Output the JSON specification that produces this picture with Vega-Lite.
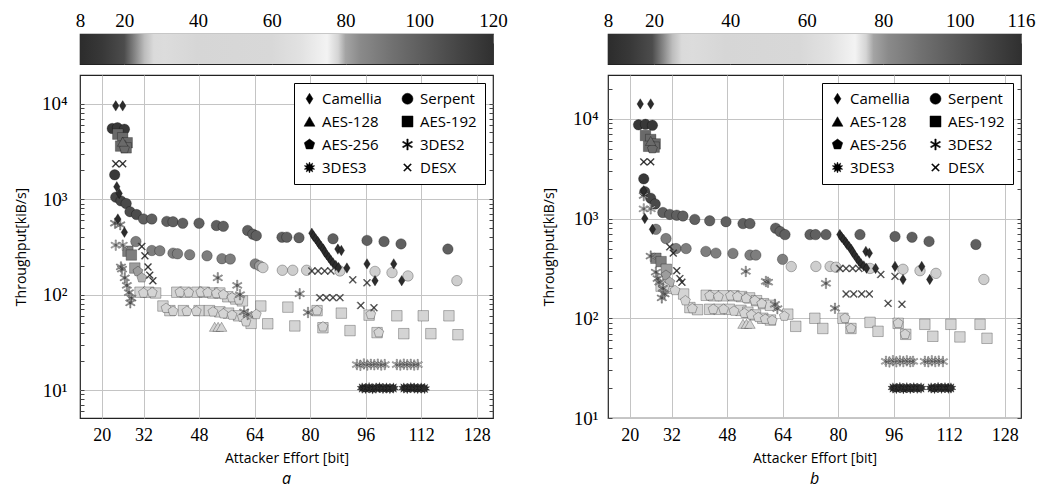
{
"$schema": "https://vega.github.io/schema/vega-lite/v6.json",
"background": "white",
"padding": {"left": 13, "top": 10, "right": 4, "bottom": 0},
"config": {
 "font": "Open Sans",
 "view": {"stroke": "#222222", "strokeWidth": 1.2},
 "axis": {"labelColor": "black", "titleColor": "black", "domain": false, "labelFlush": false, "labelOverlap": false, "titleFontWeight": "normal"}
},
"datasets": {
 "barA": [{"lo": 8, "hi": 120, "b": 0, "t": 1}],
 "barB": [{"lo": 8, "hi": 116, "b": 0, "t": 1}],
 "a": [
  {"s":"Serpent","x":23,"y":5500,"c":14},{"s":"Serpent","x":24.5,"y":5600,"c":14},{"s":"Serpent","x":26.5,"y":5400,"c":14},{"s":"Serpent","x":23.7,"y":1800,"c":14},
  {"s":"Serpent","x":24,"y":1050,"c":18},{"s":"Serpent","x":25.5,"y":960,"c":18},{"s":"Serpent","x":27,"y":900,"c":19},{"s":"Serpent","x":28.1,"y":740,"c":20},{"s":"Serpent","x":30,"y":690,"c":20},
  {"s":"Serpent","x":32,"y":620,"c":21},{"s":"Serpent","x":34.4,"y":620,"c":21},{"s":"Serpent","x":38.7,"y":585,"c":21},{"s":"Serpent","x":40.5,"y":580,"c":21},{"s":"Serpent","x":43.3,"y":560,"c":21},{"s":"Serpent","x":48,"y":560,"c":21},{"s":"Serpent","x":53,"y":530,"c":21},{"s":"Serpent","x":55,"y":520,"c":21},{"s":"Serpent","x":62,"y":470,"c":21},{"s":"Serpent","x":63.5,"y":430,"c":21},{"s":"Serpent","x":64.5,"y":415,"c":21},{"s":"Serpent","x":71.9,"y":400,"c":21},{"s":"Serpent","x":73.3,"y":400,"c":21},{"s":"Serpent","x":76.8,"y":395,"c":21},{"s":"Serpent","x":86.6,"y":385,"c":21},{"s":"Serpent","x":96.4,"y":370,"c":21},{"s":"Serpent","x":101.3,"y":360,"c":21},{"s":"Serpent","x":106.2,"y":340,"c":21},{"s":"Serpent","x":119.7,"y":300,"c":21},
  {"s":"Serpent","x":29.8,"y":360,"c":22.5},{"s":"Serpent","x":34.4,"y":290,"c":22.5},{"s":"Serpent","x":36.7,"y":288,"c":22.5},{"s":"Serpent","x":40.5,"y":272,"c":22.5},{"s":"Serpent","x":41.8,"y":268,"c":22.5},{"s":"Serpent","x":45.3,"y":262,"c":22.5},{"s":"Serpent","x":50.3,"y":255,"c":22.5},{"s":"Serpent","x":54.6,"y":238,"c":22.5},{"s":"Serpent","x":57,"y":236,"c":22.5},{"s":"Serpent","x":64.2,"y":210,"c":22.5},{"s":"Serpent","x":65.5,"y":200,"c":24},
  {"s":"Serpent","x":66.4,"y":192,"c":27},{"s":"Serpent","x":72,"y":180,"c":27},{"s":"Serpent","x":75,"y":180,"c":27},{"s":"Serpent","x":79,"y":180,"c":27},{"s":"Serpent","x":88.6,"y":177,"c":27},{"s":"Serpent","x":98.7,"y":175,"c":27},{"s":"Serpent","x":103.6,"y":170,"c":27},{"s":"Serpent","x":108.2,"y":157,"c":27},{"s":"Serpent","x":122.3,"y":140,"c":27},
  {"s":"AES-192","x":24.6,"y":4800,"c":21.5},{"s":"AES-192","x":26,"y":4400,"c":21.5},{"s":"AES-192","x":27.3,"y":3900,"c":21.5},{"s":"AES-192","x":25.4,"y":3600,"c":21.5},{"s":"AES-192","x":27,"y":3450,"c":21.5},
  {"s":"AES-192","x":27.5,"y":285,"c":22.5},{"s":"AES-192","x":28.5,"y":260,"c":22.5},{"s":"AES-192","x":29.5,"y":190,"c":24},
  {"s":"AES-192","x":31,"y":106,"c":27.5},{"s":"AES-192","x":33.5,"y":106,"c":27.5},{"s":"AES-192","x":35.5,"y":104,"c":27.5},{"s":"AES-192","x":41.6,"y":106,"c":27.5},{"s":"AES-192","x":44,"y":106,"c":27.5},{"s":"AES-192","x":47.4,"y":106,"c":27.5},{"s":"AES-192","x":49.5,"y":106,"c":27.5},{"s":"AES-192","x":52,"y":104,"c":27.5},{"s":"AES-192","x":54,"y":104,"c":27.5},{"s":"AES-192","x":56.3,"y":95,"c":27.5},{"s":"AES-192","x":58.6,"y":90,"c":27.5},{"s":"AES-192","x":60.5,"y":86,"c":27.5},
  {"s":"AES-192","x":37.6,"y":76,"c":27.5},{"s":"AES-192","x":39.6,"y":68,"c":27.5},{"s":"AES-192","x":43.5,"y":68,"c":27.5},{"s":"AES-192","x":48,"y":68,"c":27.5},{"s":"AES-192","x":51,"y":68,"c":27.5},{"s":"AES-192","x":54,"y":66,"c":27.5},{"s":"AES-192","x":56.5,"y":64,"c":27.5},{"s":"AES-192","x":59.4,"y":60,"c":27.5},{"s":"AES-192","x":62,"y":55,"c":27.5},{"s":"AES-192","x":63,"y":50,"c":27.5},
  {"s":"AES-192","x":65.8,"y":76,"c":27.5},{"s":"AES-192","x":73.6,"y":74,"c":27.5},{"s":"AES-192","x":82,"y":68,"c":27.5},{"s":"AES-192","x":89,"y":64,"c":27.5},{"s":"AES-192","x":97,"y":61,"c":27.5},{"s":"AES-192","x":105,"y":60,"c":27.5},{"s":"AES-192","x":112.6,"y":60,"c":27.5},{"s":"AES-192","x":120,"y":60,"c":27.5},
  {"s":"AES-192","x":67.8,"y":49.5,"c":27.5},{"s":"AES-192","x":75.6,"y":47,"c":27.5},{"s":"AES-192","x":83.7,"y":45,"c":27.5},{"s":"AES-192","x":91.5,"y":42,"c":27.5},{"s":"AES-192","x":99.3,"y":40,"c":27.5},{"s":"AES-192","x":107,"y":39,"c":27.5},{"s":"AES-192","x":114.8,"y":39,"c":27.5},{"s":"AES-192","x":122.6,"y":38,"c":27.5},
  {"s":"AES-256","x":26.5,"y":3400,"c":21.5},{"s":"AES-256","x":30.4,"y":175,"c":24},{"s":"AES-256","x":31.5,"y":150,"c":25},
  {"s":"AES-256","x":32,"y":104,"c":27.5},{"s":"AES-256","x":34.5,"y":105,"c":27.5},{"s":"AES-256","x":42.5,"y":106,"c":27.5},{"s":"AES-256","x":45,"y":105,"c":27.5},{"s":"AES-256","x":48.5,"y":106,"c":27.5},{"s":"AES-256","x":50.5,"y":105,"c":27.5},{"s":"AES-256","x":53,"y":103,"c":27.5},{"s":"AES-256","x":55,"y":100,"c":27.5},{"s":"AES-256","x":57.5,"y":93,"c":27.5},{"s":"AES-256","x":59.5,"y":88,"c":27.5},
  {"s":"AES-256","x":38.5,"y":72,"c":27.5},{"s":"AES-256","x":40.5,"y":67,"c":27.5},{"s":"AES-256","x":44.5,"y":67,"c":27.5},{"s":"AES-256","x":47.2,"y":67,"c":27.5},{"s":"AES-256","x":52,"y":66,"c":27.5},{"s":"AES-256","x":55,"y":63,"c":27.5},{"s":"AES-256","x":57.5,"y":61,"c":27.5},{"s":"AES-256","x":60.5,"y":58,"c":27.5},{"s":"AES-256","x":61.5,"y":52,"c":27.5},
  {"s":"AES-256","x":82,"y":68,"c":27.5},{"s":"AES-256","x":83.7,"y":46,"c":27.5},{"s":"AES-256","x":97.5,"y":62,"c":27.5},{"s":"AES-256","x":99.8,"y":40,"c":27.5},{"s":"AES-256","x":64.5,"y":62,"c":27.5},
  {"s":"AES-128","x":52.5,"y":46,"c":27.5},{"s":"AES-128","x":53.5,"y":46,"c":27.5},{"s":"AES-128","x":54.5,"y":46,"c":27.5},{"s":"AES-128","x":26,"y":4000,"c":21.5},
  {"s":"3DES2","x":23.8,"y":560,"c":24},{"s":"3DES2","x":25.3,"y":540,"c":24},{"s":"3DES2","x":24,"y":330,"c":25.5},{"s":"3DES2","x":26,"y":330,"c":25.5},{"s":"3DES2","x":25.5,"y":195,"c":24},{"s":"3DES2","x":25.8,"y":185,"c":24},{"s":"3DES2","x":26.6,"y":150,"c":24},{"s":"3DES2","x":27.2,"y":125,"c":24},{"s":"3DES2","x":27.8,"y":105,"c":24},{"s":"3DES2","x":28.5,"y":92,"c":24},{"s":"3DES2","x":28.2,"y":82,"c":24},
  {"s":"3DES2","x":53.4,"y":150,"c":24.5},{"s":"3DES2","x":59,"y":125,"c":24.5},{"s":"3DES2","x":59.8,"y":100,"c":24.5},{"s":"3DES2","x":61,"y":66,"c":24.5},{"s":"3DES2","x":62,"y":62,"c":24.5},{"s":"3DES2","x":77,"y":102,"c":24.5},{"s":"3DES2","x":79.4,"y":65,"c":24.5},
  {"s":"3DES2","x":93.5,"y":18.5,"c":25.5},{"s":"3DES2","x":94.5,"y":18.2,"c":25.5},{"s":"3DES2","x":95.5,"y":18.8,"c":25.5},{"s":"3DES2","x":96.5,"y":18.3,"c":25.5},{"s":"3DES2","x":97.5,"y":18.6,"c":25.5},{"s":"3DES2","x":98.5,"y":18.4,"c":25.5},{"s":"3DES2","x":99.5,"y":18.7,"c":25.5},{"s":"3DES2","x":100.5,"y":18.3,"c":25.5},{"s":"3DES2","x":101.5,"y":18.5,"c":25.5},{"s":"3DES2","x":105,"y":18.5,"c":25.5},{"s":"3DES2","x":106,"y":18.3,"c":25.5},{"s":"3DES2","x":107,"y":18.7,"c":25.5},{"s":"3DES2","x":108,"y":18.4,"c":25.5},{"s":"3DES2","x":109,"y":18.6,"c":25.5},{"s":"3DES2","x":110,"y":18.3,"c":25.5},{"s":"3DES2","x":111,"y":18.5,"c":25.5},
  {"s":"3DES3","x":95,"y":10.5,"c":8},{"s":"3DES3","x":96,"y":10.4,"c":8},{"s":"3DES3","x":97,"y":10.6,"c":8},{"s":"3DES3","x":98,"y":10.3,"c":8},{"s":"3DES3","x":99,"y":10.5,"c":8},{"s":"3DES3","x":100,"y":10.6,"c":8},{"s":"3DES3","x":101,"y":10.4,"c":8},{"s":"3DES3","x":102,"y":10.5,"c":8},{"s":"3DES3","x":103,"y":10.4,"c":8},{"s":"3DES3","x":104,"y":10.5,"c":8},{"s":"3DES3","x":107,"y":10.5,"c":8},{"s":"3DES3","x":108,"y":10.4,"c":8},{"s":"3DES3","x":109,"y":10.6,"c":8},{"s":"3DES3","x":110,"y":10.5,"c":8},{"s":"3DES3","x":111,"y":10.4,"c":8},{"s":"3DES3","x":112,"y":10.5,"c":8},{"s":"3DES3","x":113,"y":10.4,"c":8},
  {"s":"DESX","x":24,"y":2350,"c":10},{"s":"DESX","x":26,"y":2350,"c":10},{"s":"DESX","x":31.5,"y":320,"c":15},{"s":"DESX","x":32.4,"y":255,"c":15},{"s":"DESX","x":33.3,"y":195,"c":15},{"s":"DESX","x":33.8,"y":160,"c":15},{"s":"DESX","x":34.7,"y":140,"c":15},
  {"s":"DESX","x":80.5,"y":177,"c":20.5},{"s":"DESX","x":82.3,"y":177,"c":20.5},{"s":"DESX","x":84.2,"y":177,"c":20.5},{"s":"DESX","x":86,"y":177,"c":20.5},{"s":"DESX","x":92.3,"y":143,"c":20.5},{"s":"DESX","x":96.4,"y":133,"c":20.5},{"s":"DESX","x":82.8,"y":93,"c":20.5},{"s":"DESX","x":84.7,"y":93,"c":20.5},{"s":"DESX","x":86.6,"y":93,"c":20.5},{"s":"DESX","x":88.6,"y":93,"c":20.5},{"s":"DESX","x":94.6,"y":77,"c":20.5},{"s":"DESX","x":98.4,"y":73,"c":20.5},
  {"s":"Camellia","x":24,"y":9500,"c":8},{"s":"Camellia","x":26,"y":9500,"c":8},{"s":"Camellia","x":24.3,"y":1350,"c":8},{"s":"Camellia","x":25,"y":1150,"c":8},{"s":"Camellia","x":24.6,"y":620,"c":8},{"s":"Camellia","x":26.5,"y":450,"c":8},
  {"s":"Camellia","x":80.5,"y":440,"c":8},{"s":"Camellia","x":81,"y":410,"c":8},{"s":"Camellia","x":81.6,"y":385,"c":8},{"s":"Camellia","x":82.2,"y":360,"c":8},{"s":"Camellia","x":82.6,"y":340,"c":8},{"s":"Camellia","x":83.2,"y":320,"c":8},{"s":"Camellia","x":83.8,"y":300,"c":8},{"s":"Camellia","x":84.2,"y":280,"c":8},{"s":"Camellia","x":84.8,"y":262,"c":8},{"s":"Camellia","x":85.4,"y":245,"c":8},{"s":"Camellia","x":86,"y":228,"c":8},{"s":"Camellia","x":86.6,"y":215,"c":8},{"s":"Camellia","x":87.4,"y":202,"c":8},{"s":"Camellia","x":88.2,"y":192,"c":8},{"s":"Camellia","x":88,"y":300,"c":8},{"s":"Camellia","x":89,"y":290,"c":8},{"s":"Camellia","x":90.6,"y":190,"c":8},{"s":"Camellia","x":96.4,"y":210,"c":8},{"s":"Camellia","x":104.1,"y":210,"c":8},{"s":"Camellia","x":98.7,"y":140,"c":8},{"s":"Camellia","x":106.4,"y":140,"c":8}
 ],
 "b": [
  {"s":"Serpent","x":22.5,"y":8700,"c":14},{"s":"Serpent","x":24.5,"y":8800,"c":14},{"s":"Serpent","x":26.5,"y":8600,"c":14},{"s":"Serpent","x":24,"y":2500,"c":14},
  {"s":"Serpent","x":24.3,"y":1860,"c":18},{"s":"Serpent","x":26,"y":1600,"c":18},{"s":"Serpent","x":27.3,"y":1400,"c":19},
  {"s":"Serpent","x":29.5,"y":1150,"c":21},{"s":"Serpent","x":31.5,"y":1100,"c":21},{"s":"Serpent","x":33.5,"y":1080,"c":21},{"s":"Serpent","x":35.3,"y":1060,"c":21},{"s":"Serpent","x":38.7,"y":980,"c":21},{"s":"Serpent","x":43,"y":950,"c":21},{"s":"Serpent","x":47.7,"y":930,"c":21},{"s":"Serpent","x":52.6,"y":890,"c":21},{"s":"Serpent","x":54.6,"y":890,"c":21},{"s":"Serpent","x":62,"y":800,"c":21},{"s":"Serpent","x":63.3,"y":740,"c":21},{"s":"Serpent","x":64.7,"y":690,"c":21},{"s":"Serpent","x":71.9,"y":690,"c":21},{"s":"Serpent","x":73.5,"y":690,"c":21},{"s":"Serpent","x":76.5,"y":690,"c":21},{"s":"Serpent","x":86.3,"y":690,"c":21},{"s":"Serpent","x":96.4,"y":660,"c":21},{"s":"Serpent","x":101.3,"y":650,"c":21},{"s":"Serpent","x":106.2,"y":590,"c":21},{"s":"Serpent","x":119.7,"y":550,"c":21},
  {"s":"Serpent","x":27.5,"y":780,"c":22.5},{"s":"Serpent","x":30.4,"y":630,"c":22.5},{"s":"Serpent","x":33.3,"y":500,"c":22.5},{"s":"Serpent","x":36.2,"y":500,"c":22.5},{"s":"Serpent","x":41.9,"y":468,"c":22.5},{"s":"Serpent","x":44.8,"y":450,"c":22.5},{"s":"Serpent","x":49.7,"y":447,"c":22.5},{"s":"Serpent","x":54.6,"y":430,"c":22.5},{"s":"Serpent","x":56.3,"y":430,"c":22.5},{"s":"Serpent","x":64,"y":390,"c":22.5},
  {"s":"Serpent","x":66.5,"y":330,"c":27},{"s":"Serpent","x":73.6,"y":331,"c":27},{"s":"Serpent","x":77.7,"y":331,"c":27},{"s":"Serpent","x":79.4,"y":325,"c":27},{"s":"Serpent","x":89.2,"y":316,"c":27},{"s":"Serpent","x":98.7,"y":310,"c":27},{"s":"Serpent","x":103.6,"y":300,"c":27},{"s":"Serpent","x":108.2,"y":282,"c":27},{"s":"Serpent","x":122,"y":245,"c":27},
  {"s":"AES-192","x":24.5,"y":6800,"c":21.5},{"s":"AES-192","x":26,"y":6200,"c":21.5},{"s":"AES-192","x":27.3,"y":5600,"c":21.5},{"s":"AES-192","x":25.4,"y":5300,"c":21.5},{"s":"AES-192","x":27,"y":5200,"c":21.5},
  {"s":"AES-192","x":27.5,"y":400,"c":22.5},{"s":"AES-192","x":29,"y":370,"c":22.5},{"s":"AES-192","x":30.5,"y":310,"c":24},
  {"s":"AES-192","x":29,"y":210,"c":27.5},{"s":"AES-192","x":31,"y":200,"c":27.5},{"s":"AES-192","x":35.5,"y":175,"c":27.5},{"s":"AES-192","x":42,"y":170,"c":27.5},{"s":"AES-192","x":44.2,"y":168,"c":27.5},{"s":"AES-192","x":47,"y":168,"c":27.5},{"s":"AES-192","x":50,"y":168,"c":27.5},{"s":"AES-192","x":52.2,"y":165,"c":27.5},{"s":"AES-192","x":54.5,"y":160,"c":27.5},{"s":"AES-192","x":56.5,"y":150,"c":27.5},{"s":"AES-192","x":58.5,"y":140,"c":27.5},{"s":"AES-192","x":60.5,"y":135,"c":27.5},
  {"s":"AES-192","x":37.3,"y":128,"c":27.5},{"s":"AES-192","x":39.5,"y":122,"c":27.5},{"s":"AES-192","x":43,"y":123,"c":27.5},{"s":"AES-192","x":45.7,"y":123,"c":27.5},{"s":"AES-192","x":48.7,"y":123,"c":27.5},{"s":"AES-192","x":52,"y":120,"c":27.5},{"s":"AES-192","x":54,"y":115,"c":27.5},{"s":"AES-192","x":56.2,"y":108,"c":27.5},{"s":"AES-192","x":58.3,"y":100,"c":27.5},{"s":"AES-192","x":60.5,"y":96,"c":27.5},
  {"s":"AES-192","x":65.5,"y":110,"c":27.5},{"s":"AES-192","x":73.3,"y":100,"c":27.5},{"s":"AES-192","x":81.4,"y":100,"c":27.5},{"s":"AES-192","x":89.2,"y":91,"c":27.5},{"s":"AES-192","x":97.3,"y":89,"c":27.5},{"s":"AES-192","x":105,"y":87,"c":27.5},{"s":"AES-192","x":112.5,"y":87,"c":27.5},{"s":"AES-192","x":120.9,"y":87,"c":27.5},
  {"s":"AES-192","x":67.8,"y":83,"c":27.5},{"s":"AES-192","x":75.6,"y":79,"c":27.5},{"s":"AES-192","x":83.7,"y":79,"c":27.5},{"s":"AES-192","x":91.5,"y":74,"c":27.5},{"s":"AES-192","x":99.5,"y":69,"c":27.5},{"s":"AES-192","x":107.3,"y":66,"c":27.5},{"s":"AES-192","x":115.1,"y":65,"c":27.5},{"s":"AES-192","x":122.9,"y":63,"c":27.5},
  {"s":"AES-256","x":26.5,"y":5000,"c":21.5},{"s":"AES-256","x":30.4,"y":270,"c":24},{"s":"AES-256","x":31.5,"y":230,"c":25},
  {"s":"AES-256","x":30,"y":205,"c":27.5},{"s":"AES-256","x":33,"y":190,"c":27.5},{"s":"AES-256","x":43,"y":168,"c":27.5},{"s":"AES-256","x":45.5,"y":165,"c":27.5},{"s":"AES-256","x":49,"y":168,"c":27.5},{"s":"AES-256","x":51,"y":165,"c":27.5},{"s":"AES-256","x":53.5,"y":158,"c":27.5},{"s":"AES-256","x":56,"y":150,"c":27.5},{"s":"AES-256","x":58,"y":140,"c":27.5},
  {"s":"AES-256","x":36,"y":150,"c":27.5},{"s":"AES-256","x":38,"y":125,"c":27.5},{"s":"AES-256","x":44,"y":123,"c":27.5},{"s":"AES-256","x":47,"y":123,"c":27.5},{"s":"AES-256","x":50,"y":118,"c":27.5},{"s":"AES-256","x":53,"y":112,"c":27.5},{"s":"AES-256","x":55,"y":108,"c":27.5},{"s":"AES-256","x":57,"y":102,"c":27.5},{"s":"AES-256","x":59,"y":98,"c":27.5},{"s":"AES-256","x":61,"y":95,"c":27.5},
  {"s":"AES-256","x":82,"y":100,"c":27.5},{"s":"AES-256","x":83.7,"y":79,"c":27.5},{"s":"AES-256","x":97.3,"y":89,"c":27.5},{"s":"AES-256","x":99.3,"y":69,"c":27.5},{"s":"AES-256","x":64.5,"y":105,"c":27.5},
  {"s":"AES-128","x":52.6,"y":88,"c":27.5},{"s":"AES-128","x":53.6,"y":88,"c":27.5},{"s":"AES-128","x":54.6,"y":88,"c":27.5},{"s":"AES-128","x":26,"y":6000,"c":21.5},
  {"s":"3DES2","x":24,"y":1700,"c":24},{"s":"3DES2","x":24,"y":1250,"c":25.5},{"s":"3DES2","x":26,"y":1250,"c":25.5},{"s":"3DES2","x":26,"y":420,"c":24},{"s":"3DES2","x":27.5,"y":290,"c":24},{"s":"3DES2","x":28,"y":250,"c":24},{"s":"3DES2","x":28.5,"y":230,"c":24},{"s":"3DES2","x":29.5,"y":200,"c":24},{"s":"3DES2","x":30,"y":175,"c":24},{"s":"3DES2","x":29.2,"y":160,"c":24},
  {"s":"3DES2","x":53.4,"y":295,"c":24.5},{"s":"3DES2","x":59.2,"y":234,"c":24.5},{"s":"3DES2","x":59.8,"y":230,"c":24.5},{"s":"3DES2","x":61.8,"y":138,"c":24.5},{"s":"3DES2","x":62.5,"y":125,"c":24.5},{"s":"3DES2","x":76.5,"y":224,"c":24.5},{"s":"3DES2","x":79.1,"y":126,"c":24.5},
  {"s":"3DES2","x":93.8,"y":37,"c":25.5},{"s":"3DES2","x":94.8,"y":36.5,"c":25.5},{"s":"3DES2","x":95.8,"y":37.5,"c":25.5},{"s":"3DES2","x":96.8,"y":36.6,"c":25.5},{"s":"3DES2","x":97.8,"y":37.3,"c":25.5},{"s":"3DES2","x":98.8,"y":36.8,"c":25.5},{"s":"3DES2","x":99.8,"y":37.4,"c":25.5},{"s":"3DES2","x":100.8,"y":36.7,"c":25.5},{"s":"3DES2","x":101.6,"y":37,"c":25.5},{"s":"3DES2","x":105,"y":37,"c":25.5},{"s":"3DES2","x":106,"y":36.6,"c":25.5},{"s":"3DES2","x":107,"y":37.4,"c":25.5},{"s":"3DES2","x":108,"y":36.8,"c":25.5},{"s":"3DES2","x":109,"y":37.2,"c":25.5},{"s":"3DES2","x":110.2,"y":36.8,"c":25.5},
  {"s":"3DES3","x":95.8,"y":20,"c":8},{"s":"3DES3","x":96.8,"y":19.8,"c":8},{"s":"3DES3","x":97.8,"y":20.2,"c":8},{"s":"3DES3","x":98.8,"y":19.7,"c":8},{"s":"3DES3","x":99.8,"y":20.1,"c":8},{"s":"3DES3","x":100.8,"y":19.8,"c":8},{"s":"3DES3","x":101.8,"y":20.1,"c":8},{"s":"3DES3","x":102.8,"y":19.9,"c":8},{"s":"3DES3","x":103.9,"y":20,"c":8},{"s":"3DES3","x":106.8,"y":20,"c":8},{"s":"3DES3","x":107.8,"y":19.8,"c":8},{"s":"3DES3","x":108.8,"y":20.2,"c":8},{"s":"3DES3","x":109.8,"y":19.9,"c":8},{"s":"3DES3","x":110.8,"y":20.1,"c":8},{"s":"3DES3","x":111.8,"y":19.9,"c":8},{"s":"3DES3","x":112.5,"y":20,"c":8},
  {"s":"DESX","x":24,"y":3700,"c":10},{"s":"DESX","x":26,"y":3700,"c":10},{"s":"DESX","x":31.5,"y":520,"c":15},{"s":"DESX","x":32.5,"y":450,"c":15},{"s":"DESX","x":33.5,"y":300,"c":15},{"s":"DESX","x":34.4,"y":250,"c":15},{"s":"DESX","x":35,"y":230,"c":15},
  {"s":"DESX","x":80.5,"y":316,"c":20.5},{"s":"DESX","x":82.3,"y":316,"c":20.5},{"s":"DESX","x":84.2,"y":316,"c":20.5},{"s":"DESX","x":86,"y":316,"c":20.5},{"s":"DESX","x":92.3,"y":275,"c":20.5},{"s":"DESX","x":96.4,"y":263,"c":20.5},{"s":"DESX","x":82.3,"y":175,"c":20.5},{"s":"DESX","x":84.5,"y":175,"c":20.5},{"s":"DESX","x":86.8,"y":175,"c":20.5},{"s":"DESX","x":89,"y":175,"c":20.5},{"s":"DESX","x":94.4,"y":141,"c":20.5},{"s":"DESX","x":98.4,"y":138,"c":20.5},
  {"s":"Camellia","x":23,"y":14100,"c":8},{"s":"Camellia","x":26,"y":14100,"c":8},{"s":"Camellia","x":24,"y":1900,"c":8},{"s":"Camellia","x":24.3,"y":1000,"c":8},{"s":"Camellia","x":26.5,"y":780,"c":8},
  {"s":"Camellia","x":80.5,"y":690,"c":8},{"s":"Camellia","x":81,"y":650,"c":8},{"s":"Camellia","x":81.6,"y":615,"c":8},{"s":"Camellia","x":82.2,"y":580,"c":8},{"s":"Camellia","x":82.6,"y":550,"c":8},{"s":"Camellia","x":83.2,"y":520,"c":8},{"s":"Camellia","x":83.8,"y":490,"c":8},{"s":"Camellia","x":84.2,"y":460,"c":8},{"s":"Camellia","x":84.8,"y":430,"c":8},{"s":"Camellia","x":85.4,"y":400,"c":8},{"s":"Camellia","x":86,"y":375,"c":8},{"s":"Camellia","x":86.6,"y":352,"c":8},{"s":"Camellia","x":87.4,"y":335,"c":8},{"s":"Camellia","x":88.2,"y":318,"c":8},{"s":"Camellia","x":88,"y":468,"c":8},{"s":"Camellia","x":89,"y":450,"c":8},{"s":"Camellia","x":90.8,"y":316,"c":8},{"s":"Camellia","x":96.4,"y":331,"c":8},{"s":"Camellia","x":104.1,"y":331,"c":8},{"s":"Camellia","x":98.7,"y":245,"c":8},{"s":"Camellia","x":106.4,"y":245,"c":8}
 ]
},
"spacing": 33,
"resolve": {"scale": {"shape": "independent", "color": "independent"}, "legend": {"shape": "independent"}},
"hconcat": [
 {
  "spacing": 6,
  "resolve": {"scale": {"shape": "independent", "color": "independent"}, "legend": {"shape": "independent"}},
  "vconcat": [
   {
    "width": 413, "height": 30,
    "data": {"name": "barA"},
    "layer": [
     {"mark": {"type": "rect", "fill": {"gradient": "linear", "x1": 0, "y1": 0, "x2": 1, "y2": 0, "stops": [
       {"offset": 0, "color": "#2c2c2c"}, {"offset": 0.0536, "color": "#383838"}, {"offset": 0.1071, "color": "#4c4c4c"}, {"offset": 0.1339, "color": "#888888"}, {"offset": 0.1563, "color": "#bdbdbd"}, {"offset": 0.1786, "color": "#dadada"}, {"offset": 0.2054, "color": "#dcdcdc"}, {"offset": 0.2857, "color": "#d6d6d6"}, {"offset": 0.4643, "color": "#d8d8d8"}, {"offset": 0.5357, "color": "#e2e2e2"}, {"offset": 0.5982, "color": "#f3f3f3"}, {"offset": 0.625, "color": "#d4d4d4"}, {"offset": 0.6429, "color": "#a4a4a4"}, {"offset": 0.6786, "color": "#8a8a8a"}, {"offset": 0.7589, "color": "#707070"}, {"offset": 0.8393, "color": "#5a5a5a"}, {"offset": 0.9196, "color": "#444444"}, {"offset": 1, "color": "#303030"}]}},
      "encoding": {
       "x": {"field": "lo", "type": "quantitative", "scale": {"domain": [8, 120], "nice": false, "zero": false},
             "axis": {"orient": "top", "values": [8, 20, 40, 60, 80, 100, 120], "title": null, "grid": false, "tickSize": -9, "tickColor": "#666666", "labelPadding": 13, "labelFont": "Liberation Serif", "labelFontSize": 19}},
       "x2": {"field": "hi"},
       "y": {"field": "b", "type": "quantitative", "scale": {"domain": [0, 1], "nice": false, "zero": false}, "axis": null},
       "y2": {"field": "t"}}},
     {"mark": {"type": "point", "opacity": 0},
      "encoding": {"x": {"field": "lo", "type": "quantitative", "axis": {"orient": "bottom", "values": [20, 40, 60, 80, 100], "title": null, "grid": false, "labels": false, "tickSize": -9, "tickColor": "#666666"}},
                   "y": {"field": "b", "type": "quantitative", "axis": null}}}
    ],
    "resolve": {"axis": {"x": "independent"}}
   },
   {
    "width": 413, "height": 343,
    "data": {"name": "a"},
    "title": {"text": "a", "orient": "bottom", "offset": 6, "font": "Open Sans", "fontSize": 16, "fontStyle": "italic", "fontWeight": "normal", "color": "black"},
    "layer": [
     {"mark": {"type": "point", "filled": true, "size": 110, "opacity": 1, "stroke": "black", "strokeWidth": 0.8, "strokeOpacity": 0.35},
      "encoding": {
       "x": {"field": "x", "type": "quantitative", "scale": {"domain": [13.7, 132.7], "nice": false, "zero": false},
             "axis": {"values": [20, 32, 48, 64, 80, 96, 112, 128], "grid": true, "gridColor": "#c4c4c4", "ticks": false, "labelPadding": 8, "labelFont": "Liberation Serif", "labelFontSize": 18, "title": "Attacker Effort [bit]", "titleFont": "Open Sans", "titleFontSize": 14, "titlePadding": 7}},
       "y": {"field": "y", "type": "quantitative", "scale": {"type": "log", "domain": [5.1, 20000], "nice": false},
             "axis": {"orient": "left", "values": [6,7,8,9,10,20,30,40,50,60,70,80,90,100,200,300,400,500,600,700,800,900,1000,2000,3000,4000,5000,6000,7000,8000,9000,10000],
                      "labelExpr": "datum.value == 10 ? '10¹' : datum.value == 100 ? '10²' : datum.value == 1000 ? '10³' : datum.value == 10000 ? '10⁴' : ''",
                      "tickSize": -4, "tickColor": "#444444", "labelPadding": 17, "labelFont": "Liberation Serif", "labelFontSize": 19,
                      "grid": true, "gridColor": "#c4c4c4", "gridOpacity": {"condition": {"test": "datum.value == 10 || datum.value == 100 || datum.value == 1000 || datum.value == 10000", "value": 1}, "value": 0},
                      "title": "Throughput[kiB/s]", "titleFont": "Open Sans", "titleFontSize": 14, "titlePadding": 13}},
       "shape": {"field": "s", "type": "nominal",
                 "scale": {"domain": ["Camellia", "AES-128", "AES-256", "3DES3", "Serpent", "AES-192", "3DES2", "DESX"],
                           "range": ["M0,-1L0.62,0L0,1L-0.62,0Z", "triangle-up", "M0,-1L0.951,-0.309L0.588,0.809L-0.588,0.809L-0.951,-0.309Z", "M0,-1L0.17,-0.523L0.588,-0.809L0.445,-0.323L0.951,-0.309L0.55,0L0.951,0.309L0.445,0.323L0.588,0.809L0.17,0.523L0,1L-0.17,0.523L-0.588,0.809L-0.445,0.323L-0.951,0.309L-0.55,0L-0.951,-0.309L-0.445,-0.323L-0.588,-0.809L-0.17,-0.523Z", "circle", "square", "M-0.12,-1L0.12,-1L0.12,1L-0.12,1ZM0.806,-0.604L0.926,-0.396L-0.806,0.604L-0.926,0.396ZM0.926,0.396L0.806,0.604L-0.926,-0.396L-0.806,-0.604Z", "M0.566,-0.707L0.707,-0.566L-0.566,0.707L-0.707,0.566ZM-0.707,-0.566L-0.566,-0.707L0.707,0.566L0.566,0.707Z"]},
                 "legend": {"title": null, "orient": "top-right", "offset": 8, "columns": 2, "strokeColor": "black", "fillColor": "white", "padding": 8, "rowPadding": 7, "columnPadding": 18, "symbolSize": 120, "symbolFillColor": "black", "symbolStrokeColor": "black", "symbolStrokeWidth": 0.5, "symbolOpacity": 1, "labelFont": "Open Sans", "labelFontSize": 15, "labelColor": "black", "labelOffset": 5}},
       "color": {"field": "c", "type": "quantitative", "legend": null,
                 "scale": {"domain": [8,14,20,23,25.5,28,31,40,60,68,75,78,80,84,93,102,111,120], "range": ["#2c2c2c","#383838","#4c4c4c","#888888","#bdbdbd","#dadada","#dcdcdc","#d6d6d6","#d8d8d8","#e2e2e2","#f3f3f3","#d4d4d4","#a4a4a4","#8a8a8a","#707070","#5a5a5a","#444444","#303030"], "interpolate": "rgb"}}
      }},
     {"mark": {"type": "point", "opacity": 0},
      "encoding": {
       "x": {"field": "x", "type": "quantitative",
             "axis": {"values": [20, 32, 48, 64, 80, 96, 112, 128], "grid": true, "gridColor": "#c4c4c4", "ticks": false, "labelPadding": 8, "labelFont": "Liberation Serif", "labelFontSize": 18, "title": "Attacker Effort [bit]", "titleFont": "Open Sans", "titleFontSize": 14, "titlePadding": 7}},
       "y": {"field": "y", "type": "quantitative",
        "axis": {"orient": "right", "values": [6,7,8,9,10,20,30,40,50,60,70,80,90,100,200,300,400,500,600,700,800,900,1000,2000,3000,4000,5000,6000,7000,8000,9000,10000], "labels": false, "title": null, "grid": false, "tickSize": -4, "tickColor": "#444444"}}}}
    ],
    "resolve": {"axis": {"y": "independent"}}
   }
  ]
 },
 {
  "spacing": 6,
  "resolve": {"scale": {"shape": "independent", "color": "independent"}, "legend": {"shape": "independent"}},
  "vconcat": [
   {
    "width": 413, "height": 30,
    "data": {"name": "barB"},
    "layer": [
     {"mark": {"type": "rect", "fill": {"gradient": "linear", "x1": 0, "y1": 0, "x2": 1, "y2": 0, "stops": [
       {"offset": 0, "color": "#2c2c2c"}, {"offset": 0.0536, "color": "#383838"}, {"offset": 0.1071, "color": "#4c4c4c"}, {"offset": 0.1339, "color": "#888888"}, {"offset": 0.1563, "color": "#bdbdbd"}, {"offset": 0.1786, "color": "#dadada"}, {"offset": 0.2054, "color": "#dcdcdc"}, {"offset": 0.2857, "color": "#d6d6d6"}, {"offset": 0.4643, "color": "#d8d8d8"}, {"offset": 0.5357, "color": "#e2e2e2"}, {"offset": 0.5982, "color": "#f3f3f3"}, {"offset": 0.625, "color": "#d4d4d4"}, {"offset": 0.6429, "color": "#a4a4a4"}, {"offset": 0.6786, "color": "#8a8a8a"}, {"offset": 0.7589, "color": "#707070"}, {"offset": 0.8393, "color": "#5a5a5a"}, {"offset": 0.9196, "color": "#444444"}, {"offset": 1, "color": "#303030"}]}},
      "encoding": {
       "x": {"field": "lo", "type": "quantitative", "scale": {"domain": [8, 116], "nice": false, "zero": false},
             "axis": {"orient": "top", "values": [8, 20, 40, 60, 80, 100, 116], "title": null, "grid": false, "tickSize": -9, "tickColor": "#666666", "labelPadding": 13, "labelFont": "Liberation Serif", "labelFontSize": 19}},
       "x2": {"field": "hi"},
       "y": {"field": "b", "type": "quantitative", "scale": {"domain": [0, 1], "nice": false, "zero": false}, "axis": null},
       "y2": {"field": "t"}}},
     {"mark": {"type": "point", "opacity": 0},
      "encoding": {"x": {"field": "lo", "type": "quantitative", "axis": {"orient": "bottom", "values": [20, 40, 60, 80, 100], "title": null, "grid": false, "labels": false, "tickSize": -9, "tickColor": "#666666"}},
                   "y": {"field": "b", "type": "quantitative", "axis": null}}}
    ],
    "resolve": {"axis": {"x": "independent"}}
   },
   {
    "width": 413, "height": 343,
    "data": {"name": "b"},
    "title": {"text": "b", "orient": "bottom", "offset": 6, "font": "Open Sans", "fontSize": 16, "fontStyle": "italic", "fontWeight": "normal", "color": "black"},
    "layer": [
     {"mark": {"type": "point", "filled": true, "size": 110, "opacity": 1, "stroke": "black", "strokeWidth": 0.8, "strokeOpacity": 0.35},
      "encoding": {
       "x": {"field": "x", "type": "quantitative", "scale": {"domain": [13.7, 132.7], "nice": false, "zero": false},
             "axis": {"values": [20, 32, 48, 64, 80, 96, 112, 128], "grid": true, "gridColor": "#c4c4c4", "ticks": false, "labelPadding": 8, "labelFont": "Liberation Serif", "labelFontSize": 18, "title": "Attacker Effort [bit]", "titleFont": "Open Sans", "titleFontSize": 14, "titlePadding": 7}},
       "y": {"field": "y", "type": "quantitative", "scale": {"type": "log", "domain": [10, 27500], "nice": false},
             "axis": {"orient": "left", "values": [10,20,30,40,50,60,70,80,90,100,200,300,400,500,600,700,800,900,1000,2000,3000,4000,5000,6000,7000,8000,9000,10000,20000],
                      "labelExpr": "datum.value == 10 ? '10¹' : datum.value == 100 ? '10²' : datum.value == 1000 ? '10³' : datum.value == 10000 ? '10⁴' : ''",
                      "tickSize": -4, "tickColor": "#444444", "labelPadding": 14, "labelFont": "Liberation Serif", "labelFontSize": 19,
                      "grid": true, "gridColor": "#c4c4c4", "gridOpacity": {"condition": {"test": "datum.value == 10 || datum.value == 100 || datum.value == 1000 || datum.value == 10000", "value": 1}, "value": 0},
                      "title": "Throughput[kiB/s]", "titleFont": "Open Sans", "titleFontSize": 14, "titlePadding": 16}},
       "shape": {"field": "s", "type": "nominal",
                 "scale": {"domain": ["Camellia", "AES-128", "AES-256", "3DES3", "Serpent", "AES-192", "3DES2", "DESX"],
                           "range": ["M0,-1L0.62,0L0,1L-0.62,0Z", "triangle-up", "M0,-1L0.951,-0.309L0.588,0.809L-0.588,0.809L-0.951,-0.309Z", "M0,-1L0.17,-0.523L0.588,-0.809L0.445,-0.323L0.951,-0.309L0.55,0L0.951,0.309L0.445,0.323L0.588,0.809L0.17,0.523L0,1L-0.17,0.523L-0.588,0.809L-0.445,0.323L-0.951,0.309L-0.55,0L-0.951,-0.309L-0.445,-0.323L-0.588,-0.809L-0.17,-0.523Z", "circle", "square", "M-0.12,-1L0.12,-1L0.12,1L-0.12,1ZM0.806,-0.604L0.926,-0.396L-0.806,0.604L-0.926,0.396ZM0.926,0.396L0.806,0.604L-0.926,-0.396L-0.806,-0.604Z", "M0.566,-0.707L0.707,-0.566L-0.566,0.707L-0.707,0.566ZM-0.707,-0.566L-0.566,-0.707L0.707,0.566L0.566,0.707Z"]},
                 "legend": {"title": null, "orient": "top-right", "offset": 8, "columns": 2, "strokeColor": "black", "fillColor": "white", "padding": 8, "rowPadding": 7, "columnPadding": 18, "symbolSize": 120, "symbolFillColor": "black", "symbolStrokeColor": "black", "symbolStrokeWidth": 0.5, "symbolOpacity": 1, "labelFont": "Open Sans", "labelFontSize": 15, "labelColor": "black", "labelOffset": 5}},
       "color": {"field": "c", "type": "quantitative", "legend": null,
                 "scale": {"domain": [8,14,20,23,25.5,28,31,40,60,68,75,78,80,84,93,102,111,120], "range": ["#2c2c2c","#383838","#4c4c4c","#888888","#bdbdbd","#dadada","#dcdcdc","#d6d6d6","#d8d8d8","#e2e2e2","#f3f3f3","#d4d4d4","#a4a4a4","#8a8a8a","#707070","#5a5a5a","#444444","#303030"], "interpolate": "rgb"}}
      }},
     {"mark": {"type": "point", "opacity": 0},
      "encoding": {
       "x": {"field": "x", "type": "quantitative",
             "axis": {"values": [20, 32, 48, 64, 80, 96, 112, 128], "grid": true, "gridColor": "#c4c4c4", "ticks": false, "labelPadding": 8, "labelFont": "Liberation Serif", "labelFontSize": 18, "title": "Attacker Effort [bit]", "titleFont": "Open Sans", "titleFontSize": 14, "titlePadding": 7}},
       "y": {"field": "y", "type": "quantitative",
        "axis": {"orient": "right", "values": [10,20,30,40,50,60,70,80,90,100,200,300,400,500,600,700,800,900,1000,2000,3000,4000,5000,6000,7000,8000,9000,10000,20000], "labels": false, "title": null, "grid": false, "tickSize": -4, "tickColor": "#444444"}}}}
    ],
    "resolve": {"axis": {"y": "independent"}}
   }
  ]
 }
]
}
